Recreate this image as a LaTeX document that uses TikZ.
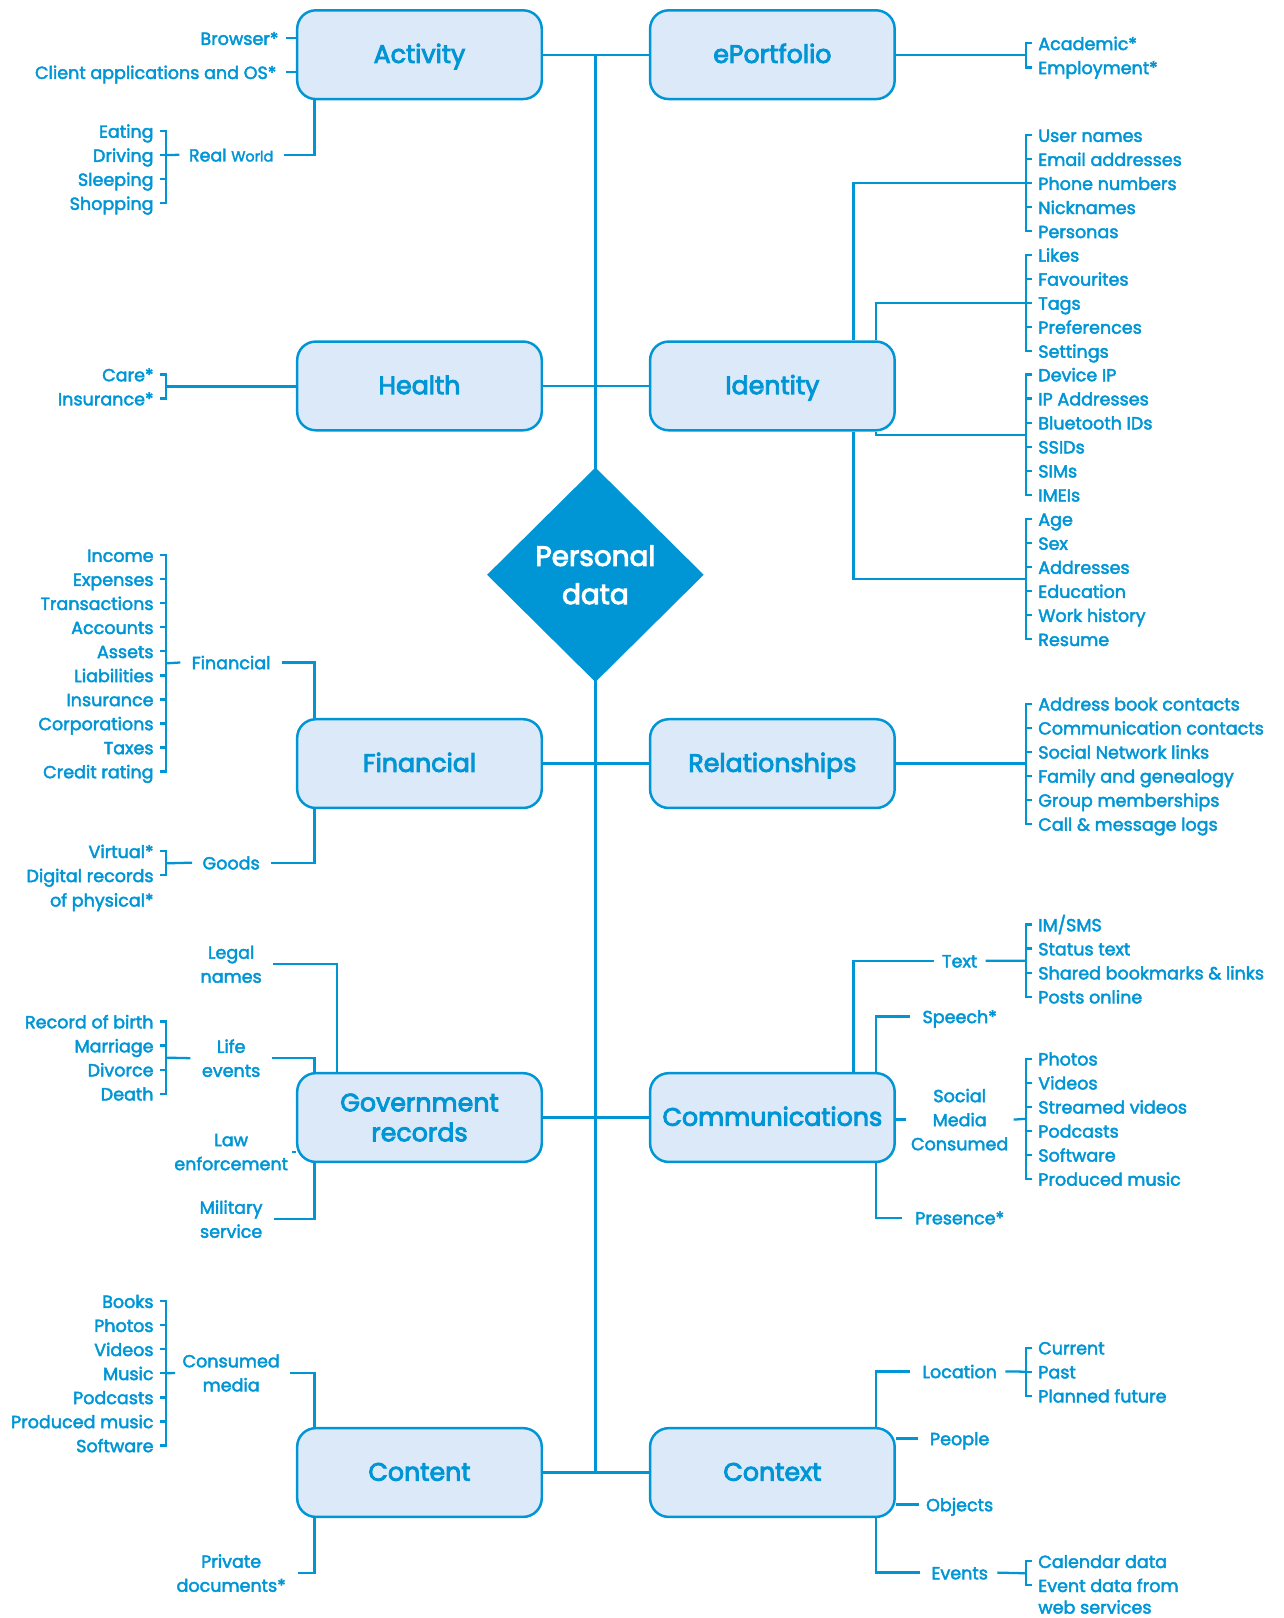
\documentclass[tikz,border=0pt]{standalone}
\usepackage{fontspec}
\setmainfont{Poppins}
\newfontfamily\leaffont{Poppins}[FakeBold=2.5]
\newfontfamily\headfont{Poppins}[FakeBold=3.5]
\usetikzlibrary{calc,shapes.geometric,backgrounds}
\definecolor{pdblue}{HTML}{0096D6}
\definecolor{pdpale}{HTML}{DCE9F8}
\begin{document}
\begin{tikzpicture}[x=1pt,y=-1pt,
	link/.style={draw=pdblue,line width=2.2pt},
	box/.style={draw=pdblue,fill=pdpale,line width=2.4pt,rounded corners=18pt,minimum width=237pt,minimum height=86pt,inner sep=0pt,align=center,text=pdblue,text height=19pt,text depth=3pt,font=\headfont\fontsize{24.5}{29}\selectfont},
	hub/.style={diamond,fill=pdblue,inner sep=0pt,minimum width=210pt,minimum height=208pt,align=center,text=white,font=\headfont\fontsize{27}{37}\selectfont},
	lbl/.style={inner sep=0pt,align=center,text=pdblue,font=\leaffont\fontsize{17}{23.3}\selectfont},
	leaf/.style={lbl,text height=14pt,text depth=1pt}]
	\useasboundingbox (0,0) rectangle (1244,1568);
	\node [hub] (pd) at (577,557) {Personal\\data};
	\node [box] (act) at (406.5,53) {Activity};
	\node [box] (port) at (748.5,53) {ePortfolio};
	\node [box] (hlth) at (406.5,374) {Health};
	\node [box] (ident) at (748.5,374) {Identity};
	\node [box] (fnc) at (406.5,740) {Financial};
	\node [box] (rels) at (748.5,740) {Relationships};
	\node [box,text height={},text depth={}] (gov) at (406.5,1083) {Government\\records};
	\node [box] (comm) at (748.5,1083) {Communications};
	\node [box] (cont) at (406.5,1427) {Content};
	\node [box] (ctx) at (748.5,1427) {Context};

	\foreach \grp/\ytop/\n/\items in {
		acad/42/2/{Academic*,Employment*},
		idn/131/5/{User names,Email addresses,Phone numbers,Nicknames,Personas},
		pref/247/5/{Likes,Favourites,Tags,Preferences,Settings},
		dev/363/6/{Device IP,IP Addresses,Bluetooth IDs,SSIDs,SIMs,IMEIs},
		age/503/6/{Age,Sex,Addresses,Education,Work history,Resume},
		rel/682/6/{Address book contacts,Communication contacts,Social Network links,Family and genealogy,Group memberships,Call \& message logs},
		txt/896/4/{IM/SMS,Status text,Shared bookmarks \& links,Posts online},
		med/1026/6/{Photos,Videos,Streamed videos,Podcasts,Software,Produced music},
		loc/1306/3/{Current,Past,Planned future},
		ev/1513/2/{Calendar data,Event data from}}{
		\foreach \t [count=\i] in \items
			\node [leaf,anchor=west] (\grp\i) at (1006,{\ytop+23.3*(\i-1)}) {\t};
		\draw [link] ([xshift=-6pt]\grp1.west) -| ([xshift=-12pt]\grp\n.west) -- ([xshift=-6pt]\grp\n.west);
		\foreach \i in {1,...,\n}
			\draw [link] ([xshift=-6pt]\grp\i.west) -- ++(-6,0);
		\coordinate (\grp) at ($(\grp1.west)!.5!(\grp\n.west)+(-12,0)$);
	}
	\node [leaf,anchor=north west] (evx) at ([yshift=-5.5pt]ev2.south west) {web services};

	\foreach \grp/\ytop/\n/\items in {
		rw/127/4/{Eating,Driving,Sleeping,Shopping},
		hl/363/2/{Care*,Insurance*},
		fin/538/10/{Income,Expenses,Transactions,Accounts,Assets,Liabilities,Insurance,Corporations,Taxes,Credit rating},
		gd/825/2/{Virtual*,Digital records},
		lf/990/4/{Record of birth,Marriage,Divorce,Death},
		cm/1261/7/{Books,Photos,Videos,Music,Podcasts,Produced music,Software}}{
		\foreach \t [count=\i] in \items
			\node [leaf,anchor=east] (\grp\i) at (149,{\ytop+23.3*(\i-1)}) {\t};
		\draw [link] ([xshift=6pt]\grp1.east) -| ([xshift=12pt]\grp\n.east) -- ([xshift=6pt]\grp\n.east);
		\foreach \i in {1,...,\n}
			\draw [link] ([xshift=6pt]\grp\i.east) -- ++(6,0);
		\coordinate (\grp) at ($(\grp1.east)!.5!(\grp\n.east)+(12,0)$);
	}
	\node [leaf,anchor=north east] (gdx) at ([yshift=-8.3pt]gd2.south east) {of physical*};

	\node [leaf,anchor=east] (brw) at (270,37) {Browser*};
	\node [leaf,anchor=east] (cli) at (268,70) {Client applications and OS*};
	\node [leaf] (rwl) at (224,150) {Real {\fontsize{14}{16}\selectfont World}};
	\node [leaf] (finl) at (224,642) {Financial};
	\node [leaf] (gdl) at (224,836) {Goods};
	\node [lbl] (lgl) at (224,934.5) {Legal\\names};
	\node [lbl] (lfl) at (224,1025.5) {Life\\events};
	\node [lbl] (lawl) at (224,1116.5) {Law\\enforcement};
	\node [lbl] (mill) at (224,1181.5) {Military\\service};
	\node [lbl] (cml) at (224,1330.5) {Consumed\\media};
	\node [lbl] (pvl) at (224,1524.5) {Private\\documents*};
	\node [leaf] (txtl) at (930,931) {Text};
	\node [leaf] (spl) at (930,985) {Speech*};
	\node [lbl] (sml) at (930,1085) {Social\\Media\\Consumed};
	\node [leaf] (prl) at (930,1180) {Presence*};
	\node [leaf] (locl) at (930,1329) {Location};
	\node [leaf] (ppl) at (930,1394) {People};
	\node [leaf] (objl) at (930,1458) {Objects};
	\node [leaf] (evl) at (930,1524) {Events};

	\begin{scope}[on background layer]
		\draw [link] (act -| pd) -- (cont -| pd);
		\draw [link] (act) -- (port);
		\draw [link] (hlth) -- (ident);
		\draw [link] (fnc) -- (rels);
		\draw [link] (gov) -- (comm);
		\draw [link] (cont) -- (ctx);
		\draw [link] ([xshift=7pt]brw.east) -- (brw.east -| act.west);
		\draw [link] ([xshift=9pt]cli.east) -- (cli.east -| act.west);
		\draw [link] (rw2.east) ++(12,0) -- ([xshift=-9pt]rwl.west);
		\draw [link] ([xshift=10pt]rwl.east) -| ([xshift=18pt]act.south west);
		\draw [link] (hl) -- (hl -| hlth.west);
		\draw [link] (fin) -- ([xshift=-11pt]finl.west);
		\draw [link] ([xshift=11pt]finl.east) -| ([xshift=18pt]fnc.north west);
		\draw [link] (gd) -- ([xshift=-10pt]gdl.west);
		\draw [link] ([xshift=11pt]gdl.east) -| ([xshift=18pt]fnc.south west);
		\draw [link] ([xshift=11pt]lgl.east) -| ([xshift=40pt]gov.north west);
		\draw [link] (lf) -- ([xshift=-11pt]lfl.west);
		\draw [link] ([xshift=11pt]lfl.east) -| ([xshift=18pt]gov.north west);
		\draw [link] ([xshift=4pt]lawl.east) -- (lawl.east -| gov.west);
		\draw [link] ([xshift=11pt]mill.east) -| ([xshift=18pt]gov.south west);
		\draw [link] (cm) -- ([xshift=-7pt]cml.west);
		\draw [link] ([xshift=10pt]cml.east) -| ([xshift=18pt]cont.north west);
		\draw [link] ([xshift=12pt]pvl.east) -| ([xshift=18pt]cont.south west);
		\draw [link] (port.east) -- (port.east -| acad);
		\draw [link] ([xshift=-41pt]ident.north east) |- (idn);
		\draw [link] ([xshift=-19pt]ident.north east) |- (pref);
		\draw [link] ([xshift=-19pt]ident.south east) |- (dev);
		\draw [link] ([xshift=-41pt]ident.south east) |- (age);
		\draw [link] (rels.east) -- (rels.east -| rel);
		\draw [link] ([xshift=-41pt]comm.north east) |- ([xshift=-8pt]txtl.west);
		\draw [link] ([xshift=8pt]txtl.east) -- (txt);
		\draw [link] ([xshift=-19pt]comm.north east) |- ([xshift=-12pt]spl.west);
		\draw [link] (comm.east |- sml) -- ([xshift=-5pt]sml.west);
		\draw [link] ([xshift=5pt]sml.east) -- (med);
		\draw [link] ([xshift=-19pt]comm.south east) |- ([xshift=-13pt]prl.west);
		\draw [link] ([xshift=-19pt]ctx.north east) |- ([xshift=-12pt]locl.west);
		\draw [link] ([xshift=8pt]locl.east) -- (loc);
		\draw [link] (ctx.east |- ppl) -- ([xshift=-11pt]ppl.west);
		\draw [link] (ctx.east |- objl) -- ([xshift=-7pt]objl.west);
		\draw [link] ([xshift=-19pt]ctx.south east) |- ([xshift=-11pt]evl.west);
		\draw [link] ([xshift=9pt]evl.east) -- (ev);
	\end{scope}
\end{tikzpicture}
\end{document}
